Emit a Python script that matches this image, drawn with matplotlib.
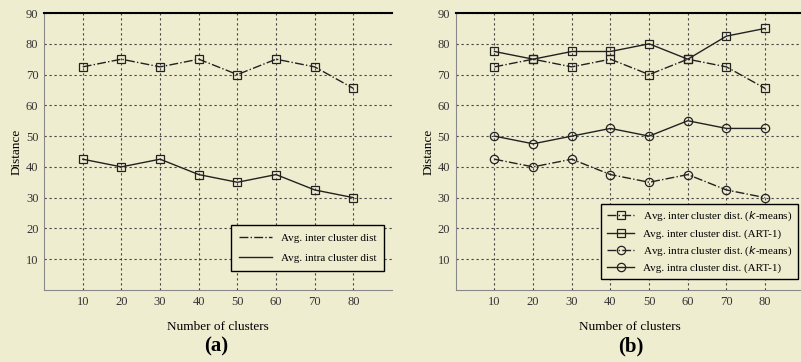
import matplotlib.pyplot as plt

plt.rcParams['font.family'] = ['Liberation Serif', 'DejaVu Serif']

clusters = [10, 20, 30, 40, 50, 60, 70, 80]
inter_km = [72.5, 75, 72.5, 75, 70, 75, 72.5, 65.5]
intra_km = [42.5, 40, 42.5, 37.5, 35, 37.5, 32.5, 30]
inter_art = [77.5, 75, 77.5, 77.5, 80, 75, 82.5, 85]
intra_art = [50, 47.5, 50, 52.5, 50, 55, 52.5, 52.5]

xticks = [10, 20, 30, 40, 50, 60, 70, 80]
yticks = [10, 20, 30, 40, 50, 60, 70, 80, 90]

bg = '#efedd0'
fig = plt.figure(figsize=(8.01, 3.62), dpi=100, facecolor=bg)
ax1 = fig.add_axes([0.055, 0.199, 0.4345, 0.765])
ax2 = fig.add_axes([0.569, 0.199, 0.4345, 0.765])


def style(ax):
    ax.set_facecolor(bg)
    ax.set_xlim(0, 90)
    ax.set_ylim(0, 90)
    ax.set_xticks(xticks)
    ax.set_yticks(yticks)
    ax.tick_params(length=0, labelsize=9, colors='#333333', pad=4)
    ax.grid(True, color='#444444', linestyle=(0, (2, 2.5)), linewidth=0.8)
    ax.spines['right'].set_visible(False)
    ax.spines['left'].set_color('#888888')
    ax.spines['bottom'].set_color('#888888')
    ax.spines['top'].set_color('black')
    ax.spines['top'].set_linewidth(1.5)
    ax.set_xlabel('Number of clusters', fontsize=9.5, labelpad=10)
    ax.set_ylabel('Distance', fontsize=9.5, labelpad=2)


# (a)
style(ax1)
ax1.plot(clusters, inter_km, color='#222222', linestyle='-.', lw=1,
         label='Avg. inter cluster dist')
ax1.plot(clusters, intra_km, color='#222222', linestyle='-', lw=1,
         label='Avg. intra cluster dist')
ax1.plot(clusters, inter_km, 's', color='#222222', mfc='none', ms=6, mew=0.9)
ax1.plot(clusters, intra_km, 's', color='#222222', mfc='none', ms=6, mew=0.9)
leg1 = ax1.legend(loc='lower right', bbox_to_anchor=(0.993, 0.05), fontsize=8,
                  fancybox=False, edgecolor='black', facecolor=bg, framealpha=1,
                  handlelength=3, borderpad=0.7, labelspacing=0.9)
leg1.get_frame().set_linewidth(1)
fig.text(0.27, 0.03, '(a)', fontsize=15, fontweight='bold', ha='center')

# (b)
style(ax2)
ax2.plot(clusters, inter_km, color='#222222', linestyle='-.', lw=1, marker='s',
         mfc='none', ms=6, mew=0.9, label='Avg. inter cluster dist. ($k$-means)')
ax2.plot(clusters, inter_art, color='#222222', linestyle='-', lw=1, marker='s',
         mfc='none', ms=6, mew=0.9, label='Avg. inter cluster dist. (ART-1)')
ax2.plot(clusters, intra_km, color='#222222', linestyle='-.', lw=1, marker='o',
         mfc='none', ms=6, mew=0.9, label='Avg. intra cluster dist. ($k$-means)')
ax2.plot(clusters, intra_art, color='#222222', linestyle='-', lw=1, marker='o',
         mfc='none', ms=6, mew=0.9, label='Avg. intra cluster dist. (ART-1)')
leg2 = ax2.legend(loc='lower right', bbox_to_anchor=(1.0, 0.02), fontsize=8,
                  fancybox=False, edgecolor='black', facecolor=bg, framealpha=1,
                  handlelength=2.5, borderpad=0.5, labelspacing=0.5)
leg2.get_frame().set_linewidth(1)
fig.text(0.788, 0.03, '(b)', fontsize=15, fontweight='bold', ha='center')

fig.savefig('out.png', dpi=100, facecolor=bg)
